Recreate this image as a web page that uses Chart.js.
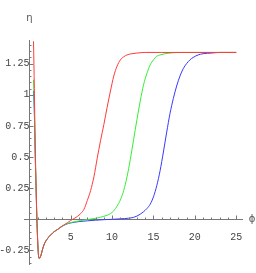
<!DOCTYPE html>
<html>
<head>
<meta charset="utf-8">
<script src="https://cdn.jsdelivr.net/npm/chart.js@4"></script>
<style>
  body { margin: 0; background: #fff; }
  #wrap { width: 256px; height: 273px; }
</style>
</head>
<body>
<div id="wrap"><canvas id="myChart" width="256" height="273"></canvas></div>
<script>
// dati
const redX = [0.5, 0.6, 0.7, 0.8, 0.9, 1.0, 1.1, 1.2, 1.35, 1.6, 1.8, 2.2, 2.6, 3.0, 3.4, 3.8, 4.2, 4.6, 5.0, 5.4, 5.8, 6.2, 6.6, 7.0, 7.4, 7.8, 8.2, 8.6, 9.0, 9.4, 9.8, 10.2, 10.6, 11.0, 11.4, 11.8, 12.4, 13.0, 14.0, 16.0, 20.0, 25.0];
const redY = [1.43, 1.05, 0.62, 0.3, 0.02, -0.17, -0.29, -0.315, -0.3, -0.24, -0.2, -0.155, -0.125, -0.1, -0.083, -0.063, -0.045, -0.028, -0.01, 0.005, 0.022, 0.045, 0.08, 0.15, 0.23, 0.34, 0.49, 0.63, 0.76, 0.9, 1.03, 1.15, 1.23, 1.28, 1.305, 1.32, 1.33, 1.335, 1.34, 1.34, 1.34, 1.34];

const greenX = [0.5, 0.6, 0.7, 0.8, 0.9, 1.0, 1.1, 1.2, 1.35, 1.6, 1.8, 2.2, 2.6, 3.0, 3.4, 3.8, 4.2, 4.6, 5.0, 5.4, 5.8, 6.2, 6.6, 7.0, 7.4, 7.8, 8.2, 8.6, 9.0, 9.4, 9.8, 10.2, 10.6, 11.0, 11.4, 11.8, 12.2, 12.6, 13.0, 13.4, 13.8, 14.2, 14.6, 15.0, 15.4, 15.8, 16.4, 17.0, 18.0, 25.0];
const greenY = [1.12, 0.9, 0.55, 0.28, 0.02, -0.17, -0.29, -0.315, -0.3, -0.24, -0.2, -0.155, -0.125, -0.1, -0.083, -0.063, -0.047, -0.035, -0.027, -0.021, -0.016, -0.011, -0.007, -0.003, 0.001, 0.005, 0.01, 0.016, 0.023, 0.032, 0.045, 0.068, 0.105, 0.155, 0.23, 0.34, 0.48, 0.64, 0.8, 0.95, 1.08, 1.17, 1.24, 1.28, 1.31, 1.32, 1.33, 1.335, 1.34, 1.34];

const blueX = [0.5, 0.6, 0.7, 0.8, 0.9, 1.0, 1.1, 1.2, 1.35, 1.6, 1.8, 2.2, 2.6, 3.0, 3.4, 3.8, 4.2, 4.6, 5.0, 5.5, 6.0, 7.0, 8.0, 9.0, 10.0, 11.0, 12.0, 12.6, 13.0, 13.4, 13.8, 14.2, 14.6, 15.0, 15.4, 15.8, 16.2, 16.6, 17.0, 17.4, 17.8, 18.2, 18.6, 19.0, 19.4, 19.8, 20.4, 21.0, 22.0, 23.0, 25.0];
const blueY = [1.03, 0.85, 0.52, 0.27, 0.02, -0.17, -0.29, -0.315, -0.3, -0.24, -0.2, -0.155, -0.125, -0.1, -0.083, -0.063, -0.048, -0.037, -0.03, -0.024, -0.019, -0.013, -0.008, -0.004, -0.001, 0.003, 0.008, 0.015, 0.025, 0.04, 0.06, 0.085, 0.12, 0.18, 0.27, 0.39, 0.54, 0.7, 0.85, 0.97, 1.07, 1.15, 1.21, 1.25, 1.28, 1.3, 1.32, 1.33, 1.335, 1.34, 1.34];

// tick degli assi
const xTicks = [5, 10, 15, 20, 25];
const yTicks = [-0.25, 0.25, 0.5, 0.75, 1, 1.25];

function toPoints(xs, ys) {
    return xs.map((x, i) => ({ x: x, y: ys[i] }));
}

const axisColor = '#777';

// tacche minori e maggiori stile Mathematica, piu' nomi degli assi
const tickPlugin = {
    id: 'mmaTicks',
    afterDraw(chart) {
        const ctx = chart.ctx;
        const sx = chart.scales.x;
        const sy = chart.scales.y;
        const x0 = sx.getPixelForValue(0);
        const y0 = sy.getPixelForValue(0);
        ctx.save();
        ctx.strokeStyle = axisColor;
        ctx.lineWidth = 1;
        ctx.beginPath();
        for (let i = 1; i <= 25; i++) {
            const px = Math.round(sx.getPixelForValue(i)) + 0.5;
            const len = i % 5 === 0 ? 4 : 2;
            ctx.moveTo(px, Math.round(y0) + 0.5);
            ctx.lineTo(px, Math.round(y0) + 0.5 - len);
        }
        for (let k = -7; k <= 28; k++) {
            if (k === 0) continue;
            const py = Math.round(sy.getPixelForValue(k * 0.05)) + 0.5;
            const len = k % 5 === 0 ? 4 : 2;
            ctx.moveTo(Math.round(x0) + 0.5, py);
            ctx.lineTo(Math.round(x0) + 0.5 + len, py);
        }
        ctx.stroke();
        ctx.fillStyle = '#555';
        ctx.font = '10px "DejaVu Sans"';
        ctx.textAlign = 'center';
        ctx.textBaseline = 'middle';
        ctx.fillText('η', x0, 18);
        ctx.fillText('ϕ', 252, y0);
        ctx.restore();
    }
};

const ctx = document.getElementById('myChart').getContext('2d');
const chart = new Chart(ctx, {
    type: 'line',
    data: {
        // il primo dataset viene disegnato sopra gli altri
        datasets: [
            { data: toPoints(redX, redY), borderColor: '#ff3a3a' },
            { data: toPoints(greenX, greenY), borderColor: '#33ee33' },
            { data: toPoints(blueX, blueY), borderColor: '#3838ff' }
        ]
    },
    options: {
        responsive: false,
        animation: false,
        layout: { padding: { left: 24, right: 14, top: 40, bottom: 6 } },
        datasets: {
            line: {
                borderWidth: 1,
                pointRadius: 0,
                fill: false,
                cubicInterpolationMode: 'monotone'
            }
        },
        plugins: {
            legend: { display: false },
            tooltip: { enabled: false }
        },
        scales: {
            x: {
                type: 'linear',
                position: { y: 0 },
                min: -0.65,
                max: 25.7,
                grid: { display: false },
                border: { display: true, color: axisColor, width: 1 },
                afterBuildTicks: (scale) => { scale.ticks = xTicks.map(v => ({ value: v })); },
                ticks: {
                    autoSkip: false,
                    maxRotation: 0,
                    padding: 4,
                    color: '#444',
                    font: { family: 'Liberation Mono', size: 10 },
                    callback: (v) => String(v)
                }
            },
            y: {
                type: 'linear',
                position: { x: 0 },
                min: -0.36,
                max: 1.44,
                grid: { display: false },
                border: { display: true, color: axisColor, width: 1 },
                afterBuildTicks: (scale) => { scale.ticks = yTicks.map(v => ({ value: v })); },
                ticks: {
                    autoSkip: false,
                    padding: 3,
                    color: '#444',
                    font: { family: 'Liberation Mono', size: 10 },
                    callback: (v) => String(Math.round(v * 100) / 100)
                }
            }
        }
    },
    plugins: [tickPlugin]
});
</script>
</body>
</html>
